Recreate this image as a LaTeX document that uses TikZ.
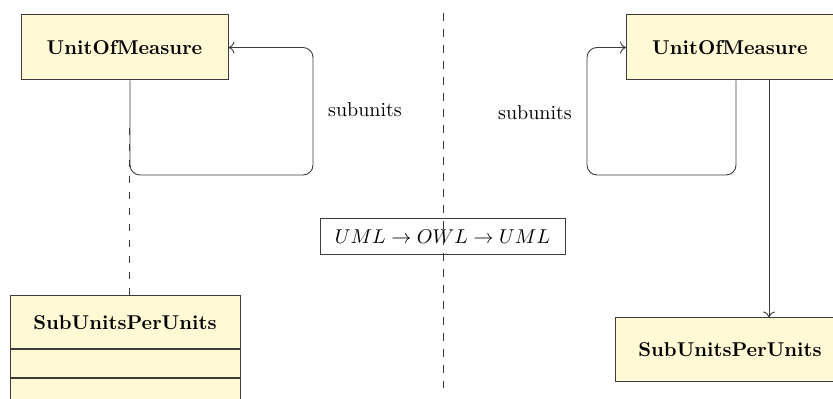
\documentclass[tikz,border=0pt]{standalone}
\usetikzlibrary{arrows.meta}
\definecolor{classfill}{RGB}{255,249,214}
\definecolor{edgegrey}{RGB}{60,60,60}
\begin{document}
\begin{tikzpicture}[x=0.5pt,y=-0.5pt,
  cls/.style={draw=edgegrey, fill=classfill, line width=0.5pt, inner sep=0pt, font=\bfseries},
  conn/.style={draw=edgegrey, line width=0.45pt},
  selfloop/.style={conn, rounded corners=5pt, -{To[length=3pt,width=6pt]}},
  assoc/.style={conn, -{To[length=3pt,width=6pt]}},
  divider/.style={draw=edgegrey, line width=0.45pt, dash pattern=on 4pt off 4pt},
  linkdash/.style={draw=edgegrey, line width=0.45pt, dash pattern=on 3.5pt off 4.5pt},
  lbl/.style={inner sep=0pt},
  titlebox/.style={draw=edgegrey, line width=0.5pt, inner sep=0pt}]
\useasboundingbox (0,0) rectangle (833,399);

% left side
\node[cls, minimum width=103.5pt, minimum height=32.5pt] (uomL) at (124.5,47.5) {UnitOfMeasure};
\node[cls, minimum width=115pt, minimum height=26.5pt] (subL) at (125,322.5) {SubUnitsPerUnits};
\node[cls, minimum width=115pt, minimum height=13.75pt, anchor=north] (subLa) at (subL.south) {};
\node[cls, minimum width=115pt, minimum height=13.75pt, anchor=north] (subLb) at (subLa.south) {};
\draw[selfloop] ([xshift=2.75pt]uomL.south) |- (313,175) |- (uomL.east);
\node[lbl] (lblL) at (365,110) {subunits};
\coordinate (assocpt) at (129,128);
\draw[linkdash] (assocpt) -- (assocpt |- subL.north);

% middle
\coordinate (divtop) at (443,13);
\coordinate (divbot) at (443,388);
\node[titlebox, minimum width=122.5pt, minimum height=18pt] (mid) at (442.5,237) {$UML \rightarrow OWL \rightarrow UML$};
\draw[divider] (divtop) -- (divbot);

% right side
\node[cls, minimum width=103.5pt, minimum height=32.5pt] (uomR) at (730,47.5) {UnitOfMeasure};
\node[cls, minimum width=115pt, minimum height=32pt] (subR) at (730,350) {SubUnitsPerUnits};
\draw[selfloop] ([xshift=3pt]uomR.south) |- (587,175) |- (uomR.west);
\node[lbl] (lblR) at (535,113) {subunits};
\draw[assoc] ([xshift=19.5pt]uomR.south) -- ([xshift=19.5pt]uomR.south |- subR.north);
\end{tikzpicture}
\end{document}
